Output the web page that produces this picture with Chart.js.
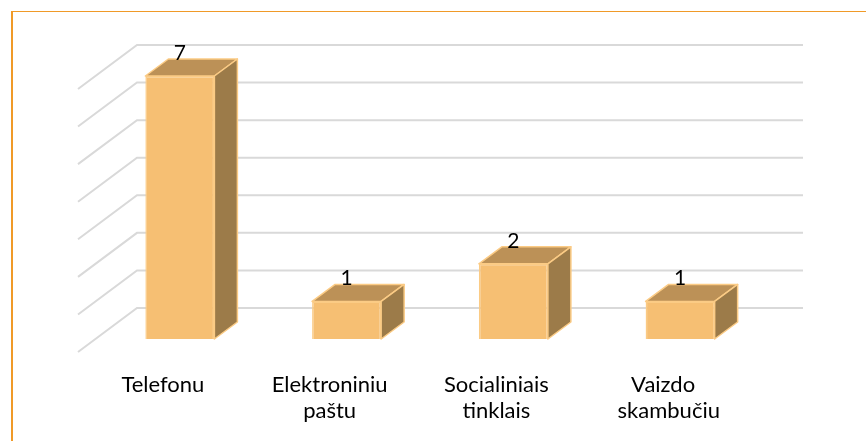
<!DOCTYPE html>
<html>
<head>
<meta charset="utf-8">
<script src="https://cdn.jsdelivr.net/npm/chart.js@4"></script>
<style>
  html, body { margin: 0; padding: 0; background: #fff; overflow: hidden; }
  #wrap { position: relative; width: 866px; height: 441px; }
  #frame { position: absolute; left: 11px; top: 11px; right: 0; bottom: 0; border-left: 2px solid #F09A28; border-top: 1px solid #F09A28; }
  canvas { position: absolute; left: 0; top: 0; }
</style>
</head>
<body>
<div id="wrap">
  <div id="frame"></div>
  <canvas id="myChart" width="866" height="441"></canvas>
</div>
<script>
const categories = [
  'Telefonu',
  ['Elektroniniu', 'paštu'],
  ['Socialiniais', 'tinklais'],
  ['Vaizdo', '  skambučiu']
];
const values = [7, 1, 2, 1];

const frontColor = '#F6BF73';
const edgeColor = '#FBCB85';
const sideColor = '#9C7B49';
const topColor = '#BC9157';
const gridColor = '#D9D9D9';

// depth of the bars and of the back wall, in pixels
const barDepthX = 23;
const barDepthY = 17;
const wallBackY = 31;
const wallFrontY = 44;
const wallLeftX = 78;
const wallBackX = 137;
const wallRightX = 803;

const fake3d = {
  id: 'fake3d',
  beforeDatasetsDraw(chart) {
    const ctx = chart.ctx;
    const yScale = chart.scales.y;
    ctx.save();
    ctx.strokeStyle = gridColor;
    ctx.lineWidth = 2;
    yScale.ticks.forEach((t) => {
      const y = yScale.getPixelForValue(t.value) - wallBackY;
      ctx.beginPath();
      ctx.moveTo(wallLeftX, y + wallFrontY);
      ctx.lineTo(wallBackX, y);
      ctx.lineTo(wallRightX, y);
      ctx.stroke();
    });
    ctx.restore();
  },
  afterDatasetsDraw(chart) {
    const ctx = chart.ctx;
    const base = chart.scales.y.getPixelForValue(0);
    ctx.save();
    ctx.lineWidth = 1.5;
    ctx.strokeStyle = edgeColor;
    ctx.lineJoin = 'round';
    chart.getDatasetMeta(0).data.forEach((bar, i) => {
      const left = bar.x - bar.width / 2;
      const right = bar.x + bar.width / 2;
      const top = bar.y;

      ctx.fillStyle = topColor;
      ctx.beginPath();
      ctx.moveTo(left, top);
      ctx.lineTo(left + barDepthX, top - barDepthY);
      ctx.lineTo(right + barDepthX, top - barDepthY);
      ctx.lineTo(right, top);
      ctx.closePath();
      ctx.fill();
      ctx.stroke();

      ctx.fillStyle = sideColor;
      ctx.beginPath();
      ctx.moveTo(right, top);
      ctx.lineTo(right + barDepthX, top - barDepthY);
      ctx.lineTo(right + barDepthX, base - barDepthY);
      ctx.lineTo(right, base);
      ctx.closePath();
      ctx.fill();
      ctx.stroke();

      // value label sits on the back of the top face
      ctx.fillStyle = '#000';
      ctx.font = '21px Lato';
      ctx.textAlign = 'center';
      ctx.textBaseline = 'alphabetic';
      ctx.fillText(values[i], bar.x, top - 16);
    });
    ctx.restore();
  }
};

const myChart = new Chart(document.getElementById('myChart'), {
  type: 'bar',
  data: {
    labels: categories,
    datasets: [{
      data: values,
      backgroundColor: frontColor,
      borderColor: edgeColor,
      borderWidth: 1.5,
      barPercentage: 0.414,
      categoryPercentage: 1
    }]
  },
  options: {
    responsive: false,
    animation: false,
    layout: { padding: { left: 96.5, right: 102.5, top: 76, bottom: 0 } },
    plugins: { legend: { display: false }, tooltip: { enabled: false } },
    scales: {
      y: {
        display: false,
        min: 0,
        max: 7,
        ticks: { stepSize: 1 }
      },
      x: {
        afterFit(scale) { scale.height = 102; },
        grid: { display: false, drawTicks: false },
        border: { display: false },
        ticks: {
          autoSkip: false,
          maxRotation: 0,
          padding: 32,
          labelOffset: -17,
          color: '#000',
          font: { family: 'Lato', size: 22, lineHeight: 1.22 }
        }
      }
    }
  },
  plugins: [fake3d]
});
</script>
</body>
</html>
